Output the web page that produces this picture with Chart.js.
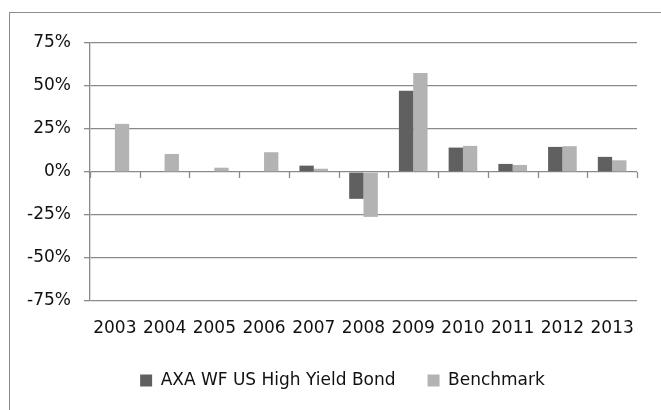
<!DOCTYPE html>
<html>
<head>
<meta charset="utf-8">
<script src="https://cdn.jsdelivr.net/npm/chart.js@4.4.1/dist/chart.umd.min.js"></script>
<style>
    html, body { margin: 0; padding: 0; background: #fff; overflow: hidden; }
    #frame {
        position: absolute;
        left: 9px;
        top: 12px;
        width: 690px;
        height: 420px;
        border: 1px solid #8c8c8c;
    }
    #chartReturns {
        position: absolute;
        left: 0;
        top: 0;
    }
</style>
</head>
<body>
<div id="frame">
    <canvas id="chartReturns" width="665" height="386"></canvas>
</div>
<script>
// annual returns in %
const years = ["2003", "2004", "2005", "2006", "2007", "2008", "2009", "2010", "2011", "2012", "2013"];
const fundReturns = [null, null, null, null, 3.7, -15.6, 47.3, 14.2, 4.7, 14.6, 8.8];
const benchmarkReturns = [28.0, 10.5, 2.5, 11.5, 1.9, -26.1, 57.6, 15.2, 4.1, 15.0, 6.8];
const yTicks = [-75, -50, -25, 0, 25, 50, 75];

const fontFamily = "'DejaVu Sans', sans-serif";
const axisGray = "#8a8a8a";

// little tick marks hanging under the 0% line, between categories
const zeroTicksPlugin = {
    id: "zeroTicks",
    afterDatasetsDraw: (chart) => {
        const ctx = chart.ctx;
        const area = chart.chartArea;
        const y0 = chart.scales.y.getPixelForValue(0);
        const step = (area.right - area.left) / years.length;
        ctx.save();
        ctx.strokeStyle = axisGray;
        ctx.lineWidth = 1.3;
        for (let i = 0; i <= years.length; i++) {
            const x = Math.round(area.left + i * step) + 0.5;
            ctx.beginPath();
            ctx.moveTo(x, y0);
            ctx.lineTo(x, y0 + 6);
            ctx.stroke();
        }
        ctx.restore();
    },
};

const ctxReturns = document.getElementById("chartReturns").getContext("2d");
const barChartReturns = new Chart(ctxReturns, {
    type: "bar",
    data: {
        labels: years,
        datasets: [
            {
                label: "AXA WF US High Yield Bond",
                data: fundReturns,
                backgroundColor: "#606060",
                borderWidth: 0,
                barPercentage: 1,
                categoryPercentage: 0.576,
            },
            {
                label: "Benchmark",
                data: benchmarkReturns,
                backgroundColor: "#b3b3b3",
                borderWidth: 0,
                barPercentage: 1,
                categoryPercentage: 0.576,
            },
        ],
    },
    options: {
        responsive: false,
        animation: false,
        layout: {
            padding: { top: 30, right: 0, left: 0, bottom: 0 },
        },
        plugins: {
            tooltip: { enabled: false },
            legend: {
                position: "bottom",
                labels: {
                    boxWidth: 12,
                    boxHeight: 12,
                    padding: 32,
                    color: "#111",
                    font: { family: fontFamily, size: 17 },
                },
            },
        },
        scales: {
            x: {
                grid: { display: false, drawTicks: false },
                border: { display: false },
                ticks: {
                    color: "#111",
                    padding: 17,
                    maxRotation: 0,
                    autoSkip: false,
                    font: { family: fontFamily, size: 17 },
                },
                afterFit: (scale) => {
                    scale.height = 39;
                },
            },
            y: {
                min: -75,
                max: 75,
                afterBuildTicks: (scale) => {
                    scale.ticks = yTicks.map((v) => ({ value: v }));
                },
                grid: {
                    color: axisGray,
                    lineWidth: 1.3,
                    drawTicks: true,
                    tickLength: 6,
                },
                border: { display: true, color: axisGray, width: 1.3 },
                ticks: {
                    color: "#111",
                    padding: 13,
                    font: { family: fontFamily, size: 17 },
                    callback: function (value) {
                        return value + "%";
                    },
                },
                afterFit: (scale) => {
                    scale.width = 80;
                },
            },
            // empty strip on the right so the legend stays centred on the frame
            rightGap: {
                type: "linear",
                position: "right",
                display: true,
                grid: { display: false, drawTicks: false },
                border: { display: false },
                ticks: { display: false },
                afterFit: (scale) => {
                    scale.width = 38;
                },
            },
        },
    },
    plugins: [zeroTicksPlugin],
});
</script>
</body>
</html>
